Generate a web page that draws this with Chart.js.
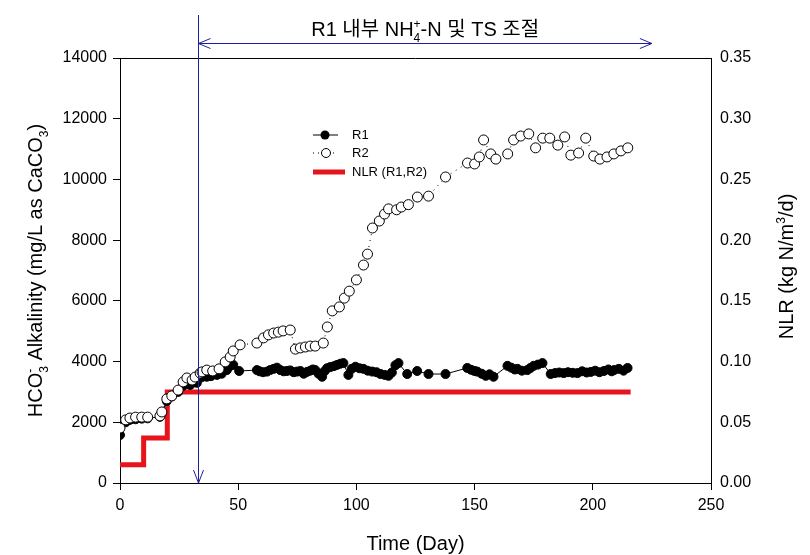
<!DOCTYPE html>
<html>
<head>
<meta charset="utf-8">
<script src="https://cdn.jsdelivr.net/npm/chart.js@4/dist/chart.umd.min.js"></script>
<style>
  html, body { margin: 0; padding: 0; background: #fff; }
  #wrap { width: 810px; height: 555px; }
</style>
</head>
<body>
<div id="wrap"><canvas id="chart" width="810" height="555"></canvas></div>
<script>
// R1 alkalinity (filled circles)
const r1Days = [0, 2.4, 4.2, 6.6, 9.2, 11.7, 16.9, 17.7, 19.8, 21.9, 24.6, 26.7, 28.3, 29.7, 32.5, 34.5, 36.7, 38.5, 41, 43, 45.2, 46.5, 47.9, 50.4,
  57.9, 59, 60.5, 62.2, 63.5, 65, 66.4, 67.8, 69.2, 70.6, 72, 73.5, 74.9, 76.3, 77.7, 79.1, 80.5, 81.6, 82.6, 84, 85.5, 86.5, 87.6, 89, 90.5, 91.8, 93.2, 94.5,
  96.6, 98, 99.6, 101.3, 103, 104.8, 106.7, 108.5, 110.2, 112, 113.6, 115, 116.5, 117.8, 121.5, 125.7, 130.5, 137.7,
  146.9, 148.5, 150, 151.1, 153, 154.7, 156.3, 158, 163.9, 165.5, 167, 168.1, 170, 172.3, 173.6, 175, 176.8, 178.7,
  182.2, 184, 185.8, 187.7, 189.5, 191.5, 193.5, 195.5, 197.4, 199.2, 201, 202.8, 204.7, 206.6, 208, 209, 211, 213, 214.7]
const r1Values = [1580, 2000, 2080, 2100, 2120, 2130, 2180, 2300, 2700, 2850, 3000, 3200, 3330, 3230, 3300, 3480, 3500, 3520, 3560, 3600, 3720, 3850, 3890, 3690,
  3720, 3680, 3650, 3670, 3720, 3760, 3800, 3720, 3680, 3690, 3710, 3650, 3670, 3690, 3600, 3660, 3700, 3740, 3720, 3600, 3500, 3680, 3780, 3820, 3850, 3890, 3930, 3950,
  3560, 3760, 3830, 3780, 3760, 3700, 3670, 3650, 3590, 3560, 3530, 3640, 3880, 3950, 3590, 3690, 3590, 3590,
  3790, 3730, 3690, 3670, 3600, 3530, 3580, 3500, 3860, 3800, 3740, 3760, 3700, 3720, 3790, 3860, 3900, 3950,
  3590, 3620, 3640, 3620, 3650, 3630, 3620, 3680, 3640, 3660, 3700, 3650, 3690, 3740, 3680, 3720, 3760, 3700, 3790]

// R2 alkalinity (open circles)
const r2Days = [0, 2.4, 4.2, 6.6, 9.2, 11.7, 16.9, 17.7, 19.8, 21.9, 24.6, 26.7, 28.3, 30.5, 31.8, 33.9, 34.7, 36.7, 39.2, 41.9, 44.5, 46.6, 47.9, 50.8,
  57.9, 60.7, 62.8, 65, 67, 69, 72, 74.2, 76.3, 78.4, 80.5, 82.6, 86, 87.7, 89.8, 92.8, 94.9, 97, 100, 103, 104.7, 106.8, 109.7, 111.9, 113.6, 117, 119, 122,
  125.8, 130.5, 137.7, 147, 150, 152, 153.8, 156.8, 159, 164, 166.5, 169.5, 172.9, 175.8, 178.8, 181.8, 185.2, 188.1, 190.7, 194, 197, 200.4, 203, 206, 208.9, 211.9, 214.8]
const r2Values = [1810, 2080, 2140, 2170, 2170, 2170, 2210, 2340, 2770, 2870, 3060, 3330, 3460, 3390, 3490, 3620, 3660, 3720, 3690, 3760, 3990, 4150, 4350, 4550,
  4610, 4780, 4880, 4940, 4970, 5010, 5040, 4410, 4450, 4480, 4510, 4510, 4610, 5140, 5670, 5800, 6090, 6320, 6690, 7180, 7540, 8400, 8630, 8860, 9030, 9000, 9090, 9170,
  9420, 9450, 10080, 10540, 10510, 10740, 11300, 10840, 10670, 10840, 11300, 11430, 11500, 11040, 11360, 11360, 11130, 11400, 10800, 10870, 11360, 10770, 10670, 10740, 10840, 10940, 11040]

// nitrogen loading rate steps
const nlrDays = [0, 10, 20, 216]
const nlrValues = [0.015, 0.037, 0.075, 0.075]

const xTicks = [0, 50, 100, 150, 200, 250]
const controlStartDay = 33
const controlEndDay = 225

const FONT = '"Liberation Sans", Arial, "Noto Sans CJK KR", sans-serif'
const BLUE = '#1f1f9c'
const RED = '#e8141c'

function toPoints(days, values) {
  return days.map((d, i) => ({ x: d, y: values[i] }))
}

// draws text made of normal / sub / sup pieces, centred on x
function drawRich(ctx, parts, x, y, size) {
  const small = Math.round(size * 0.62)
  const widths = parts.map((p) => {
    ctx.font = `${p.m === 'n' ? size : small}px ${FONT}`
    return ctx.measureText(p.t).width
  })
  let total = 0
  parts.forEach((p, i) => {
    if (p.s) total += Math.max(0, widths[i] - widths[i - 1])
    else total += widths[i]
  })
  let cx = x - total / 2
  let prevX = cx
  ctx.textBaseline = 'alphabetic'
  ctx.textAlign = 'left'
  parts.forEach((p, i) => {
    const px = p.s ? prevX : cx
    let dy = 0
    if (p.m === 'b') dy = size * 0.28
    if (p.m === 'p') dy = -size * 0.42
    ctx.font = `${p.m === 'n' ? size : small}px ${FONT}`
    ctx.fillText(p.t, px, y + dy)
    if (p.s) cx = Math.max(cx, px + widths[i])
    else { prevX = px; cx = px + widths[i] }
  })
}

const overlay = {
  id: 'overlay',
  afterDraw(chart) {
    const { ctx, chartArea: a, scales } = chart
    const x = scales.x
    ctx.save()

    // top frame line
    ctx.strokeStyle = '#000'
    ctx.lineWidth = 1
    ctx.beginPath()
    ctx.moveTo(a.left, a.top + 0.5)
    ctx.lineTo(a.right, a.top + 0.5)
    ctx.stroke()

    // control period annotation
    const sx = Math.round(x.getPixelForValue(controlStartDay)) + 0.5
    const ex = x.getPixelForValue(controlEndDay)
    const ay = a.top - 14.5
    ctx.strokeStyle = BLUE
    ctx.lineWidth = 1
    ctx.beginPath()
    ctx.moveTo(sx, a.top - 43)
    ctx.lineTo(sx, a.bottom)
    ctx.moveTo(sx - 5, a.bottom - 13)
    ctx.lineTo(sx, a.bottom)
    ctx.lineTo(sx + 5, a.bottom - 13)
    ctx.moveTo(sx, ay)
    ctx.lineTo(ex, ay)
    ctx.moveTo(sx + 12, ay - 5)
    ctx.lineTo(sx, ay)
    ctx.lineTo(sx + 12, ay + 5)
    ctx.moveTo(ex - 12, ay - 5)
    ctx.lineTo(ex, ay)
    ctx.lineTo(ex - 12, ay + 5)
    ctx.stroke()

    ctx.fillStyle = '#000'
    drawRich(ctx, [
      { t: 'R1 내부 NH', m: 'n' },
      { t: '4', m: 'b' },
      { t: '+', m: 'p', s: true },
      { t: '-N 및 TS 조절', m: 'n' }
    ], (sx + ex) / 2, a.top - 22, 20)

    // legend
    const lx = a.left + 193
    const ly = a.top + 77
    ctx.font = `13px ${FONT}`
    ctx.textBaseline = 'middle'
    ctx.textAlign = 'left'
    ctx.strokeStyle = '#000'
    ctx.beginPath()
    ctx.moveTo(lx, ly)
    ctx.lineTo(lx + 25, ly)
    ctx.stroke()
    ctx.beginPath()
    ctx.arc(lx + 12, ly, 4.5, 0, Math.PI * 2)
    ctx.fill()
    ctx.fillText('R1', lx + 39, ly)

    ctx.setLineDash([1, 4])
    ctx.beginPath()
    ctx.moveTo(lx, ly + 18)
    ctx.lineTo(lx + 25, ly + 18)
    ctx.stroke()
    ctx.setLineDash([])
    ctx.fillStyle = '#fff'
    ctx.beginPath()
    ctx.arc(lx + 13, ly + 18, 4.5, 0, Math.PI * 2)
    ctx.fill()
    ctx.stroke()
    ctx.fillStyle = '#000'
    ctx.fillText('R2', lx + 39, ly + 18)

    ctx.strokeStyle = RED
    ctx.lineWidth = 5
    ctx.beginPath()
    ctx.moveTo(lx, ly + 37)
    ctx.lineTo(lx + 32, ly + 37)
    ctx.stroke()
    ctx.fillText('NLR (R1,R2)', lx + 39, ly + 37)

    // axis titles
    ctx.fillStyle = '#000'
    ctx.save()
    ctx.translate(42, (a.top + a.bottom) / 2)
    ctx.rotate(-Math.PI / 2)
    drawRich(ctx, [
      { t: 'HCO', m: 'n' },
      { t: '3', m: 'b' },
      { t: '-', m: 'p', s: true },
      { t: ' Alkalinity (mg/L as CaCO', m: 'n' },
      { t: '3', m: 'b' },
      { t: ')', m: 'n' }
    ], 0, 0, 20)
    ctx.restore()

    ctx.save()
    ctx.translate(793, (a.top + a.bottom) / 2 - 4)
    ctx.rotate(-Math.PI / 2)
    drawRich(ctx, [
      { t: 'NLR (kg N/m', m: 'n' },
      { t: '3', m: 'p' },
      { t: '/d)', m: 'n' }
    ], 0, 0, 20)
    ctx.restore()

    drawRich(ctx, [{ t: 'Time (Day)', m: 'n' }], (a.left + a.right) / 2, 550, 20)
    ctx.restore()
  }
}

new Chart(document.getElementById('chart'), {
  type: 'line',
  data: {
    datasets: [
      {
        label: 'R2',
        data: toPoints(r2Days, r2Values),
        yAxisID: 'y',
        borderColor: '#000',
        borderWidth: 1,
        borderDash: [1, 5],
        pointRadius: 5,
        pointBackgroundColor: '#fff',
        pointBorderColor: '#000',
        pointBorderWidth: 1,
        tension: 0
      },
      {
        label: 'R1',
        data: toPoints(r1Days, r1Values),
        yAxisID: 'y',
        borderColor: '#000',
        borderWidth: 1,
        pointRadius: 4.5,
        pointBackgroundColor: '#000',
        pointBorderColor: '#000',
        pointBorderWidth: 1,
        tension: 0
      },
      {
        label: 'NLR (R1,R2)',
        data: toPoints(nlrDays, nlrValues),
        yAxisID: 'y2',
        borderColor: RED,
        borderWidth: 5,
        pointRadius: 0,
        stepped: true,
        borderCapStyle: 'butt'
      }
    ]
  },
  options: {
    responsive: false,
    animation: false,
    devicePixelRatio: 1,
    layout: { padding: { top: 58, left: 0, right: 0, bottom: 0 } },
    plugins: {
      legend: { display: false },
      tooltip: { enabled: false }
    },
    scales: {
      x: {
        type: 'linear',
        min: 0,
        max: 250,
        afterBuildTicks: (scale) => { scale.ticks = xTicks.map((v) => ({ value: v })) },
        afterFit: (scale) => { scale.height = 72 },
        border: { display: true, color: '#000', width: 1 },
        grid: { drawOnChartArea: false, tickLength: 7, color: '#000' },
        ticks: { color: '#000', padding: 6, font: { family: FONT, size: 16 }, callback: (v) => String(v) }
      },
      y: {
        position: 'left',
        min: 0,
        max: 14000,
        ticks: { stepSize: 2000, color: '#000', padding: 6, font: { family: FONT, size: 16 }, callback: (v) => String(v) },
        afterFit: (scale) => { scale.width = 120 },
        border: { display: true, color: '#000', width: 1 },
        grid: { drawOnChartArea: false, tickLength: 7, color: '#000' }
      },
      y2: {
        position: 'right',
        min: 0,
        max: 0.35,
        ticks: {
          stepSize: 0.05,
          color: '#000',
          padding: 9,
          font: { family: FONT, size: 16 },
          callback: (v) => Number(v).toFixed(2)
        },
        afterFit: (scale) => { scale.width = 99 },
        border: { display: true, color: '#000', width: 1 },
        grid: { drawOnChartArea: false, drawTicks: false }
      }
    }
  },
  plugins: [overlay]
})
</script>
</body>
</html>
